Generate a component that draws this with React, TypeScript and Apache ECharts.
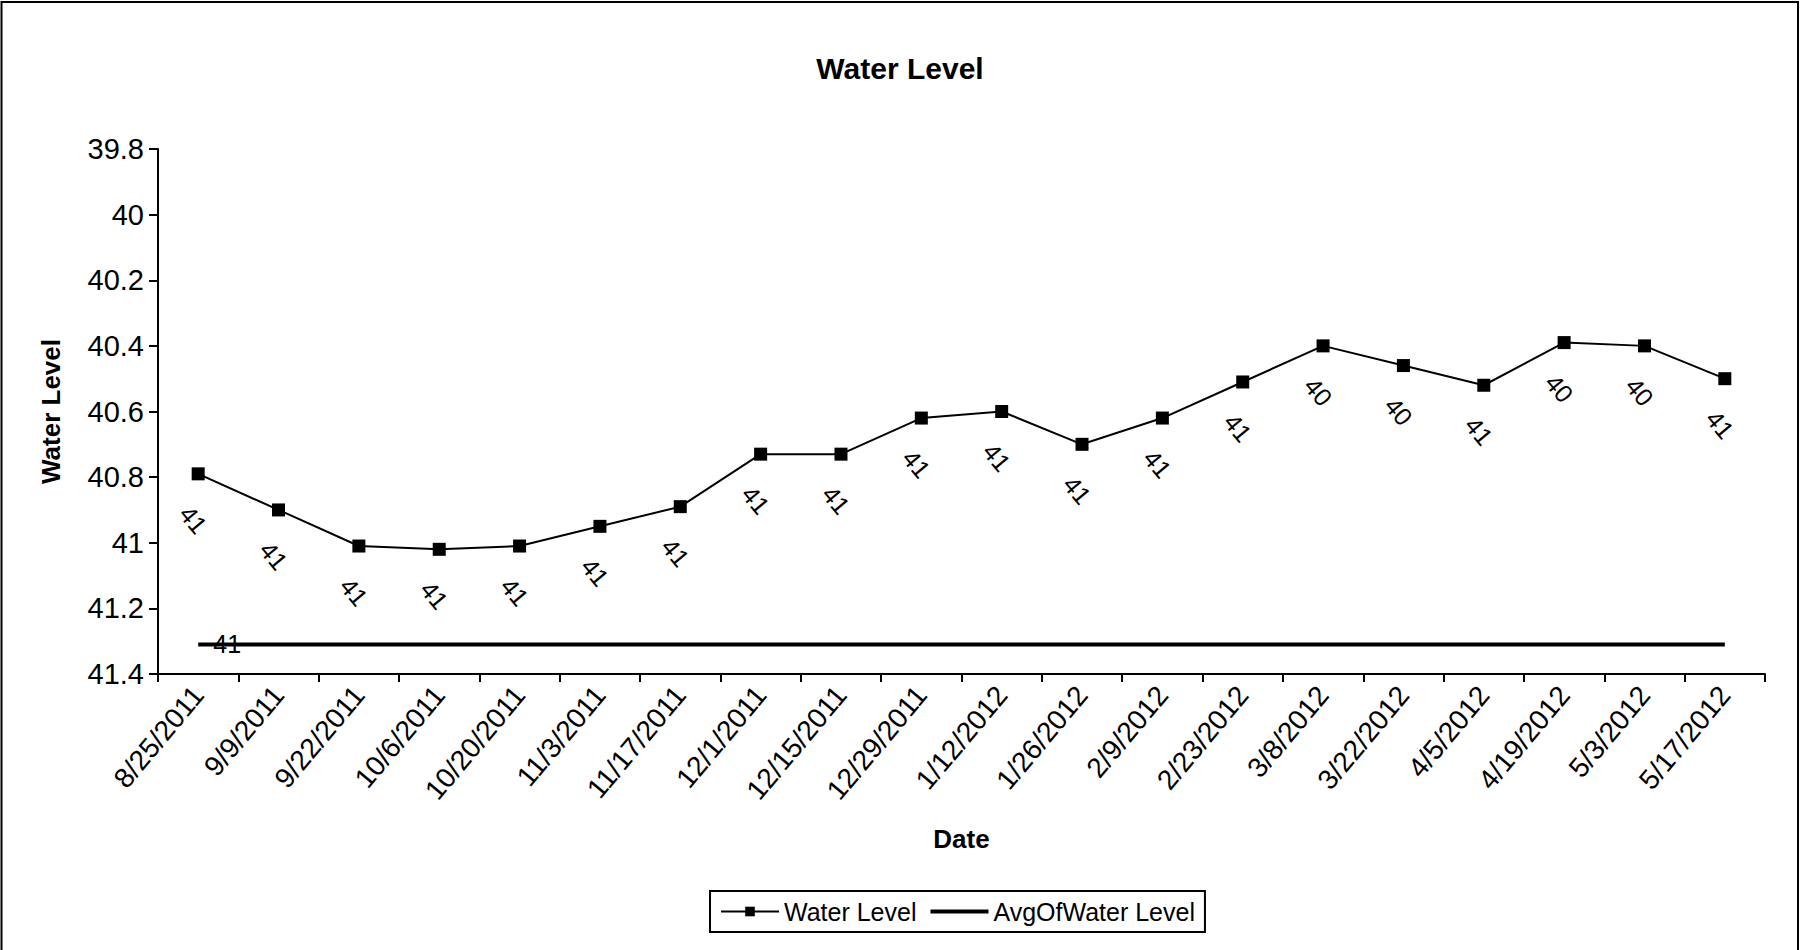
import React, { useEffect, useRef } from "react";
import * as echarts from "echarts";

const categories = [
  "8/25/2011", "9/9/2011", "9/22/2011", "10/6/2011", "10/20/2011",
  "11/3/2011", "11/17/2011", "12/1/2011", "12/15/2011", "12/29/2011",
  "1/12/2012", "1/26/2012", "2/9/2012", "2/23/2012", "3/8/2012",
  "3/22/2012", "4/5/2012", "4/19/2012", "5/3/2012", "5/17/2012",
];
const waterLevel = [
  40.79, 40.9, 41.01, 41.02, 41.01, 40.95, 40.89, 40.73, 40.73, 40.62,
  40.6, 40.7, 40.62, 40.51, 40.4, 40.46, 40.52, 40.39, 40.4, 40.5,
];
const avgOfWaterLevel = 41.31;
const yMin = 39.8;
const yMax = 41.4;
const yInterval = 0.2;

const FONT = "'Liberation Sans', Arial, sans-serif";

export default function App() {
  const ref = useRef<HTMLDivElement>(null);
  useEffect(() => {
    document.body.style.margin = "0";
    if (!ref.current) return;
    const chart = echarts.init(ref.current, null, { renderer: "svg" });
    const avgData = categories.map(() => avgOfWaterLevel);
    chart.setOption({
      animation: false,
      backgroundColor: "#fff",
      textStyle: { fontFamily: FONT, color: "#000" },
      title: {
        text: "Water Level",
        left: "center",
        top: 48,
        textStyle: { fontFamily: FONT, fontSize: 30, fontWeight: "bold", color: "#000" },
      },
      graphic: [
        {
          type: "polyline",
          shape: { points: [[1.5, 950], [1.5, 2], [1798, 2], [1798, 950]] },
          style: { fill: "none", stroke: "#000", lineWidth: 2 },
          silent: true,
        },
      ],
      grid: { left: 158, right: 35, top: 149, bottom: 276 },
      legend: {
        left: 710,
        bottom: 18,
        borderColor: "#000",
        borderWidth: 2,
        padding: [8, 10],
        itemGap: 14,
        itemWidth: 58,
        itemHeight: 12,
        textStyle: { fontFamily: FONT, fontSize: 25, color: "#000" },
        data: [
          { name: "Water Level" },
          { name: "AvgOfWater Level", icon: "path://M0,0L58,0L58,4L0,4Z", itemStyle: { color: "#000" } },
        ],
      },
      xAxis: {
        type: "category",
        data: categories,
        boundaryGap: true,
        name: "Date",
        nameLocation: "middle",
        nameGap: 152,
        nameTextStyle: { fontFamily: FONT, fontSize: 26, fontWeight: "bold", color: "#000" },
        axisLine: { lineStyle: { color: "#000", width: 2 } },
        axisTick: { show: true, interval: 0, length: 8, lineStyle: { color: "#000", width: 2 } },
        axisLabel: { interval: 0, rotate: 50, fontFamily: FONT, fontSize: 28, color: "#000", margin: 16 },
        splitLine: { show: false },
      },
      yAxis: {
        type: "value",
        inverse: true,
        min: yMin,
        max: yMax,
        interval: yInterval,
        name: "Water Level",
        nameLocation: "middle",
        nameRotate: 90,
        nameGap: 94,
        nameTextStyle: { fontFamily: FONT, fontSize: 26, fontWeight: "bold", color: "#000" },
        axisLine: { show: true, lineStyle: { color: "#000", width: 2 } },
        axisTick: { show: true, length: 9, lineStyle: { color: "#000", width: 2 } },
        axisLabel: {
          fontFamily: FONT,
          fontSize: 29,
          color: "#000",
          margin: 14,
          formatter: (v: number) => String(Math.round(v * 10) / 10),
        },
        splitLine: { show: false },
      },
      series: [
        {
          name: "Water Level",
          type: "line",
          data: waterLevel,
          symbol: "rect",
          symbolSize: 13,
          itemStyle: { color: "#000" },
          lineStyle: { color: "#000", width: 2 },
          label: {
            show: true,
            position: "inside",
            rotate: -50,
            fontFamily: FONT,
            fontSize: 25,
            color: "#000",
            formatter: (p: any) => String(Math.round(p.value)),
          },
          labelLayout: { dx: 32, dy: 33 },
          z: 3,
        },
        {
          name: "AvgOfWater Level",
          type: "line",
          data: avgData,
          symbol: "none",
          itemStyle: { color: "#000" },
          lineStyle: { color: "#000", width: 4 },
          markPoint: {
            symbol: "circle",
            symbolSize: 1,
            silent: true,
            itemStyle: { color: "rgba(0,0,0,0)" },
            label: {
              show: true,
              position: "inside",
              offset: [29, 0],
              fontFamily: FONT,
              fontSize: 25,
              color: "#000",
              formatter: (p: any) => String(p.value),
            },
            data: [{ coord: [categories[0], avgOfWaterLevel], value: Math.round(avgOfWaterLevel) }],
          },
          z: 2,
        },
      ],
    });
    return () => chart.dispose();
  }, []);
  return <div ref={ref} style={{ width: 1800, height: 950 }} />;
}
